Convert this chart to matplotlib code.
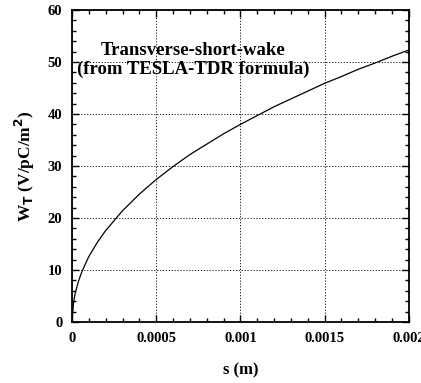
import numpy as np
import matplotlib
matplotlib.use('Agg')
import matplotlib.pyplot as plt
from matplotlib.ticker import MultipleLocator, FixedFormatter, FixedLocator

# wake values
s_m = [0, 0.00001, 0.00002, 0.00004, 0.00006, 0.0001, 0.00015, 0.0002,
       0.0003, 0.0004, 0.0005, 0.0006, 0.0007, 0.0008, 0.0009, 0.001,
       0.0011, 0.0012, 0.0013, 0.0014, 0.0015, 0.0016, 0.0017, 0.0018,
       0.0019, 0.002]
wake = [0, 4.0, 5.7, 8.0, 9.8, 12.6, 15.3, 17.6,
        21.4, 24.6, 27.4, 29.9, 32.2, 34.2, 36.2, 38.0,
        39.7, 41.4, 42.9, 44.4, 45.9, 47.2, 48.6, 49.8,
        51.1, 52.3]

xticks = [0, 0.0005, 0.001, 0.0015, 0.002]
xticklabels = ['0', '0.0005', '0.001', '0.0015', '0.002']
yticks = [0, 10, 20, 30, 40, 50, 60]

plt.rcParams['font.family'] = ['Liberation Serif', 'DejaVu Serif']
plt.rcParams['font.weight'] = 'bold'

fig = plt.figure(figsize=(4.21, 3.83), dpi=100)
ax = fig.add_axes([0.171, 0.159, 0.8, 0.815])

ax.plot(s_m, wake, color='black', lw=0.9)

ax.set_xlim(0, 0.002)
ax.set_ylim(0, 60)
ax.xaxis.set_major_locator(FixedLocator(xticks))
ax.xaxis.set_major_formatter(FixedFormatter(xticklabels))
ax.xaxis.set_minor_locator(MultipleLocator(0.0001))
ax.yaxis.set_major_locator(FixedLocator(yticks))
ax.yaxis.set_minor_locator(MultipleLocator(2))
ax.tick_params(which='both', direction='in', top=True, right=True,
               labelsize=10.5, width=1, color='black')
ax.tick_params(which='major', length=5, pad=7)
ax.tick_params(which='minor', length=3)
for lab in ax.get_xticklabels() + ax.get_yticklabels():
    lab.set_fontweight('bold')
for sp in ax.spines.values():
    sp.set_linewidth(1.3)

ax.grid(True, which='major', linestyle=(0, (1.5, 2)), color='black', lw=0.6)

ax.text(0.36, 0.84, 'Transverse-short-wake\n(from TESLA-TDR formula)',
        transform=ax.transAxes, ha='center', va='center',
        fontsize=13.5, fontweight='bold', linespacing=1.12)

ax.set_xlabel('s (m)', fontsize=12, fontweight='bold', labelpad=13)
ax.set_ylabel(r'W$_\mathbf{T}$ (V/pC/m$^\mathbf{2}$)', fontsize=12.5,
              fontweight='bold', labelpad=8)

fig.savefig('out.png', dpi=100)
